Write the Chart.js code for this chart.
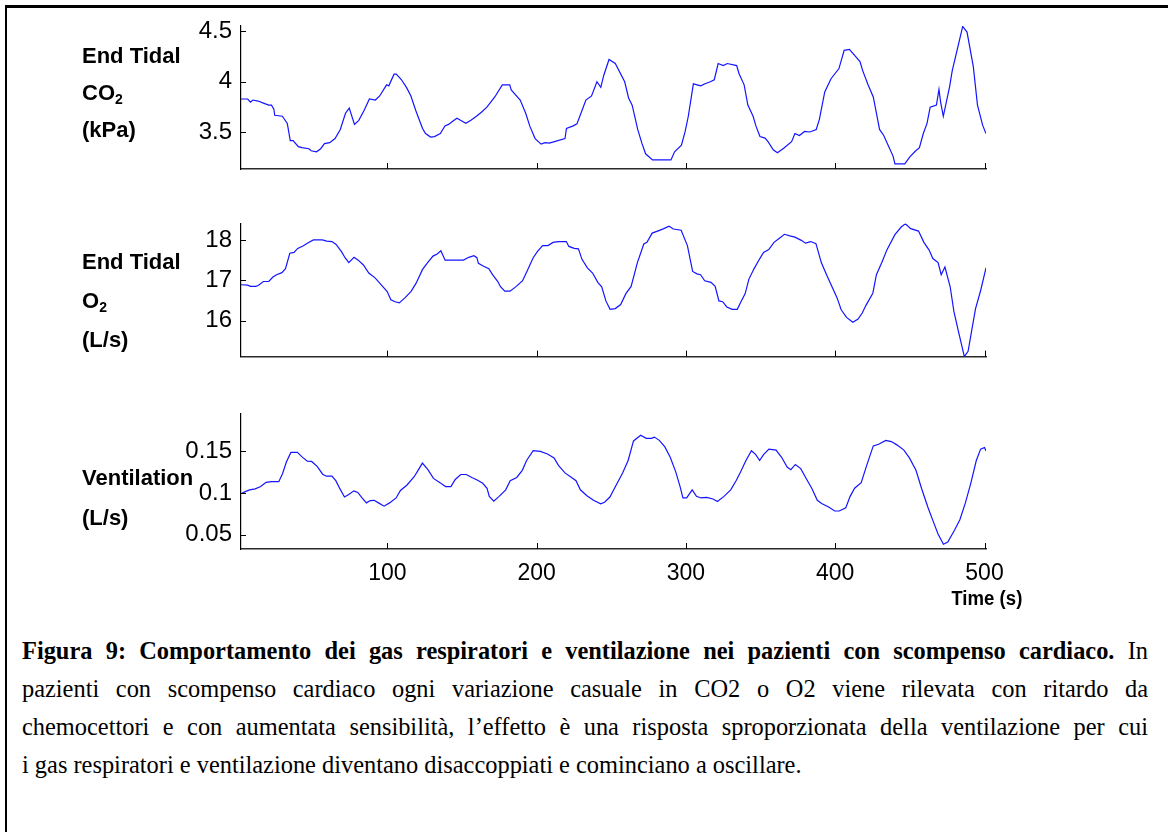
<!DOCTYPE html>
<html lang="it">
<head>
<meta charset="utf-8">
<title>Figura 9</title>
<script src="https://cdn.jsdelivr.net/npm/chart.js@4.4.1/dist/chart.umd.min.js"></script>
<style>
  html, body { margin: 0; padding: 0; background: #fff; }
  #pagina { position: relative; width: 1168px; height: 832px; overflow: hidden; }
  #cornice { position: absolute; left: 5px; top: 5px; width: 1200px; height: 900px;
             border-left: 2px solid #000; border-top: 3px solid #000; }
  canvas { position: absolute; left: 0; }
  .etichetta { position: absolute; left: 82px; font: bold 22px "Liberation Sans", Arial, sans-serif;
               color: #000; white-space: nowrap; line-height: 24px; }
  .etichetta sub { font-size: 14px; vertical-align: -4px; }
  #asseTempo { position: absolute; right: 146px; top: 586px; font: bold 20px "Liberation Sans", Arial, sans-serif;
               transform: scaleX(0.93); transform-origin: right center; white-space: nowrap; line-height: 24px; }
  .riga { position: absolute; left: 22px; width: 1126px; font: 24.4px "Liberation Serif", "Times New Roman", serif;
          color: #000; white-space: nowrap; line-height: 28px; }
  .giustificata { text-align: justify; text-align-last: justify; white-space: normal; }
</style>
</head>
<body>
<div id="pagina">
  <div id="cornice"></div>

  <canvas id="graficoCO2" width="1168" height="200" style="top:0px"></canvas>
  <canvas id="graficoO2" width="1168" height="180" style="top:200px"></canvas>
  <canvas id="graficoVent" width="1168" height="220" style="top:390px"></canvas>

  <div class="etichetta" style="top:44px">End Tidal</div>
  <div class="etichetta" style="top:81px">CO<sub>2</sub></div>
  <div class="etichetta" style="top:118px">(kPa)</div>

  <div class="etichetta" style="top:250px">End Tidal</div>
  <div class="etichetta" style="top:289px">O<sub>2</sub></div>
  <div class="etichetta" style="top:328px">(L/s)</div>

  <div class="etichetta" style="top:466px">Ventilation</div>
  <div class="etichetta" style="top:506px">(L/s)</div>

  <div id="asseTempo">Time (s)</div>

  <div class="riga giustificata" style="top:637px"><b>Figura 9: Comportamento dei gas respiratori e ventilazione nei pazienti con scompenso cardiaco.</b> In</div>
  <div class="riga giustificata" style="top:675px">pazienti con scompenso cardiaco ogni variazione casuale in CO2 o O2 viene rilevata con ritardo da</div>
  <div class="riga giustificata" style="top:713px">chemocettori e con aumentata sensibilità, l’effetto è una risposta sproporzionata della ventilazione per cui</div>
  <div class="riga" style="top:751px">i gas respiratori e ventilazione diventano disaccoppiati e cominciano a oscillare.</div>
</div>

<script>
// Tacche comuni dell'asse del tempo (s)
const tickTempo = [100, 200, 300, 400, 500];

// CO2 di fine espirazione (kPa): [tempo, valore]
const co2 = [[2,3.83],[6.5,3.83],[8.3,3.80],[10,3.82],[13.5,3.81],[17,3.79],[20.6,3.77],[22.4,3.77],[24,3.73],[24.6,3.67],
  [29.7,3.66],[33,3.59],[35,3.42],[36.9,3.42],[40.4,3.36],[42.8,3.35],[47.5,3.34],[49,3.32],[52.6,3.31],[55.4,3.34],
  [57.9,3.39],[61.4,3.40],[65,3.44],[68.5,3.53],[72,3.69],[74.5,3.74],[78,3.58],[80.9,3.62],[84.5,3.72],[88,3.83],
  [92,3.82],[94.9,3.86],[99.5,3.97],[101,3.96],[104.5,4.075],[106,4.075],[109.5,4.02],[113,3.94],[115.8,3.86],[119,3.72],
  [123.6,3.54],[125.6,3.49],[129,3.455],[131.6,3.46],[135.5,3.49],[138.6,3.565],[141,3.58],[143.8,3.61],[146.6,3.64],[149,3.62],
  [152.6,3.59],[156,3.62],[159.7,3.66],[163,3.70],[166.7,3.75],[172,3.85],[177,3.97],[182,3.97],[183,3.92],[189,3.82],
  [192.7,3.69],[195.5,3.56],[199,3.44],[203,3.385],[205.6,3.40],[208.4,3.395],[212,3.41],[219,3.44],[220,3.54],[224.5,3.565],
  [227,3.585],[229.7,3.69],[233,3.82],[236.8,3.86],[240.4,4.00],[243,3.945],[245,4.065],[248.5,4.22],[252.7,4.18],[259,4.00],
  [261.6,3.84],[264,3.77],[267.7,3.53],[270.5,3.395],[273,3.29],[277.6,3.23],[290,3.23],[292.4,3.31],[297,3.376],[299.5,3.51],
  [301.6,3.66],[305,3.98],[307.5,3.97],[310,3.96],[312.8,3.98],[316.4,4.00],[319,4.02],[321.6,4.18],[325,4.16],[327.7,4.18],
  [334,4.16],[335.6,4.08],[339,3.97],[341.5,3.77],[345,3.66],[347,3.56],[349.6,3.46],[353,3.445],[355,3.41],[358.5,3.33],
  [361.3,3.30],[365.5,3.345],[370.8,3.41],[373,3.49],[376,3.47],[379.5,3.51],[383,3.505],[387.3,3.53],[389.4,3.63],[393,3.90],
  [397.2,4.03],[402.5,4.13],[406,4.31],[409.5,4.32],[413,4.26],[416.6,4.20],[418.4,4.11],[422,3.97],[425.5,3.85],[429.7,3.53],
  [432.5,3.47],[435.3,3.38],[438.8,3.265],[440,3.19],[446.6,3.19],[450,3.26],[453.6,3.315],[456.4,3.35],[459,3.49],[461.5,3.59],
  [463.6,3.75],[467.8,3.77],[469.5,3.925],[470.6,3.80],[472.4,3.66],[476.6,3.95],[478.4,4.11],[485.4,4.546],[488.3,4.49],[492.5,4.15],
  [495.3,3.77],[498.8,3.57],[501,3.49]];

// O2 di fine espirazione: [tempo, valore]
const o2 = [[2,16.89],[6.5,16.88],[8.3,16.85],[11.9,16.85],[13.5,16.87],[17,16.97],[20.6,16.97],[23.4,17.08],[25.8,17.14],[29.4,17.19],
  [31.8,17.29],[34.7,17.67],[37.5,17.69],[40,17.79],[43.5,17.85],[47,17.93],[50.5,18.00],[56.5,18.00],[59.4,17.97],[62.9,17.96],
  [65.7,17.89],[69.3,17.71],[71.7,17.56],[74.2,17.44],[77.7,17.57],[80.5,17.50],[84,17.38],[87.6,17.18],[91.8,17.06],[96.4,16.87],
  [99.9,16.72],[102.4,16.52],[105.2,16.47],[108,16.44],[111.6,16.56],[115.8,16.72],[119.3,16.93],[123.6,17.27],[127,17.44],[130.6,17.60],
  [133.4,17.65],[135.9,17.73],[138.7,17.50],[151,17.50],[154.6,17.57],[158,17.61],[160,17.56],[161,17.42],[164.5,17.35],[168,17.29],
  [170.5,17.14],[174,16.97],[175.8,16.84],[178.7,16.73],[182.2,16.73],[186.4,16.85],[190.6,16.99],[193.5,17.22],[197.7,17.56],[200.5,17.71],
  [204,17.86],[207.6,17.86],[211,17.94],[214.6,17.96],[219.9,17.96],[221.6,17.84],[225.2,17.79],[228,17.78],[230.4,17.52],[234,17.31],
  [237.5,17.18],[241,16.95],[243.6,16.84],[246.4,16.49],[249.2,16.28],[252.7,16.30],[256.3,16.40],[259.8,16.67],[263.3,16.85],[267.5,17.44],
  [271.8,17.90],[273.9,17.94],[277.4,18.17],[281,18.22],[285.2,18.28],[288.7,18.34],[291.6,18.27],[296.8,18.24],[301,17.86],[304.5,17.22],
  [307.4,17.16],[309.8,17.14],[312.6,16.99],[316.8,16.95],[319.6,16.85],[322.1,16.49],[324.6,16.47],[327.4,16.34],[331,16.28],[334.4,16.28],
  [336.2,16.42],[339.7,16.67],[342.2,17.03],[345.7,17.29],[349.2,17.52],[352,17.69],[355.5,17.76],[359,17.94],[362.6,18.04],[366,18.14],
  [369.6,18.10],[373,18.07],[377.3,17.99],[380.1,17.92],[383.6,17.96],[387.1,17.91],[390.7,17.44],[394.2,17.14],[397.7,16.85],[401.2,16.57],
  [404,16.27],[407.6,16.08],[411.8,15.96],[415.3,16.04],[418.1,16.19],[420.6,16.38],[425.2,16.68],[427.6,17.14],[431.2,17.44],[434.7,17.76],
  [440,18.13],[444.2,18.32],[447,18.40],[450.6,18.28],[455.8,18.22],[459.4,17.94],[462.9,17.75],[465.4,17.54],[468.9,17.44],[471,17.14],
  [473.5,17.33],[477,16.84],[479.5,16.23],[482.3,15.77],[486.5,15.11],[489,15.24],[491.5,15.77],[494,16.30],[497.5,16.76],[501,17.31]];

// Ventilazione (L/s): [tempo, valore]
const ventilazione = [[2,0.099],[5.2,0.1018],[7.8,0.1037],[11.5,0.1049],[15.2,0.1076],[18.8,0.1126],[22.5,0.1134],[27.3,0.1134],[29.8,0.123],[32.4,0.137],
  [35.4,0.1484],[39.8,0.1484],[42.7,0.1434],[46.4,0.138],[49.3,0.1376],[53,0.1317],[56.7,0.1224],[59.2,0.120],[62.9,0.120],[65.5,0.1146],
  [68.4,0.1045],[71.3,0.0951],[73.9,0.0979],[77.6,0.1025],[80.2,0.1006],[83.1,0.094],[86,0.0881],[88.6,0.0909],[91.2,0.0912],[94.1,0.0881],
  [97.8,0.0842],[101.5,0.0881],[105.9,0.094],[108.8,0.1029],[113.2,0.1095],[118,0.1193],[120.6,0.127],[123.5,0.1356],[127.2,0.1278],[130.9,0.1173],
  [135.3,0.1123],[139,0.1076],[142.6,0.1076],[145.5,0.1161],[149.2,0.122],[152.9,0.122],[156.6,0.1185],[160.2,0.1154],[163.9,0.1115],[166.8,0.1056],
  [168.3,0.0959],[171.3,0.0901],[174.9,0.0959],[179.3,0.1037],[182.3,0.1146],[186.7,0.1185],[190.4,0.127],[193.3,0.1387],[197.7,0.1504],[202.5,0.1496],
  [207.3,0.1465],[211.7,0.1418],[214.6,0.1329],[219,0.1239],[223.4,0.1185],[226.4,0.1146],[229.3,0.1037],[233.7,0.0967],[238.1,0.0912],[242.9,0.087],
  [245.5,0.0889],[249.1,0.0951],[252.8,0.1076],[257.6,0.1239],[261.3,0.1387],[264.9,0.1621],[269.7,0.169],[273.4,0.1652],[277,0.1652],[278.9,0.1667],
  [282.2,0.1628],[285.9,0.155],[289.5,0.1426],[293.2,0.1251],[296.1,0.1076],[298,0.094],[300.5,0.094],[304.2,0.1037],[307.1,0.0959],[310.1,0.094],
  [313.8,0.0947],[318.2,0.0928],[321.1,0.0897],[325.5,0.0959],[330,0.1037],[333.6,0.1146],[336.6,0.1251],[340.2,0.1387],[343.9,0.1504],[346.8,0.1457],
  [349.4,0.1387],[352,0.1457],[355.6,0.1523],[360.4,0.1512],[364.1,0.1426],[367.8,0.1309],[370.3,0.1278],[373.3,0.134],[376.9,0.129],[381.4,0.1146],
  [384.3,0.1056],[388,0.0912],[390.9,0.0873],[395.3,0.0835],[399.7,0.0784],[402.7,0.0784],[407.1,0.0823],[410,0.0959],[413,0.1056],[417.4,0.1123],
  [421.1,0.1329],[425.5,0.1562],[429.1,0.1582],[433.9,0.1628],[437.6,0.1613],[441.3,0.1574],[446,0.1512],[449.7,0.1418],[454.1,0.127],[457.8,0.1056],
  [462.2,0.0823],[465.9,0.0648],[468.8,0.0512],[472.5,0.0387],[475.4,0.0414],[479.8,0.055],[483.5,0.0679],[487.2,0.0881],[490.8,0.1115],[494.5,0.1387],
  [497.4,0.1523],[500,0.1543],[501,0.150]];

// Tacche e limiti degli assi y
const tickCO2 = [3.5, 4, 4.5];
const tickO2 = [16, 17, 18];
const tickVent = [0.05, 0.1, 0.15];
const limitiCO2 = [3.14, 4.55];
const limitiO2 = [15.11, 18.41];
const limitiVent = [0.033, 0.195];

Chart.defaults.font.family = '"Liberation Sans", Arial, sans-serif';
Chart.defaults.color = '#000';

// tacche rivolte verso l'interno, come negli assi di MATLAB
const tacchePlugin = {
  id: 'tacche',
  afterDraw(chart) {
    const ctx = chart.ctx;
    const area = chart.chartArea;
    const sx = chart.scales.x, sy = chart.scales.y;
    ctx.save();
    ctx.strokeStyle = '#000';
    ctx.lineWidth = 1;
    ctx.beginPath();
    chart.options.plugins.tacche.valoriY.forEach(v => {
      const py = Math.round(sy.getPixelForValue(v)) + 0.5;
      ctx.moveTo(area.left, py);
      ctx.lineTo(area.left + 5, py);
    });
    tickTempo.forEach(v => {
      const px = Math.round(sx.getPixelForValue(v)) + 0.5;
      ctx.moveTo(px, area.bottom);
      ctx.lineTo(px, area.bottom - 6);
    });
    ctx.stroke();
    ctx.restore();
  }
};

function creaGrafico(id, serie, valoriY, limiti, etichetteX, padTop, padBottom) {
  const altezzaX = etichetteX ? 40 : 2;
  return new Chart(document.getElementById(id), {
    type: 'line',
    data: {
      datasets: [{
        data: serie.map(p => ({ x: p[0], y: p[1] })),
        borderColor: '#1414ff',
        borderWidth: 1.2,
        pointRadius: 0,
        tension: 0,
        fill: false
      }]
    },
    options: {
      responsive: false,
      animation: false,
      events: [],
      layout: { padding: { left: 181, right: 182, top: padTop, bottom: padBottom } },
      plugins: {
        legend: { display: false },
        tooltip: { enabled: false },
        tacche: { valoriY: valoriY }
      },
      scales: {
        x: {
          type: 'linear',
          min: 2,
          max: 501,
          grid: { display: false, drawTicks: false },
          border: { display: true, color: '#2a2a2a', width: 1.5 },
          afterBuildTicks: s => { s.ticks = tickTempo.map(v => ({ value: v })); },
          afterFit: s => { s.height = altezzaX; },
          ticks: { display: etichetteX, padding: 11, maxRotation: 0, font: { size: 23 } }
        },
        y: {
          type: 'linear',
          min: limiti[0],
          max: limiti[1],
          grid: { display: false, drawTicks: false },
          border: { display: true, color: '#000', width: 1.2 },
          afterBuildTicks: s => { s.ticks = valoriY.map(v => ({ value: v })); },
          afterFit: s => { s.width = 60; },
          ticks: { padding: 9, font: { size: 24 }, callback: v => String(v) }
        }
      }
    },
    plugins: [tacchePlugin]
  });
}

// area dati: x 241..986 px; y secondo i margini di ciascun pannello
creaGrafico('graficoCO2', co2, tickCO2, limitiCO2, false, 26, 200 - 169 - 2);
creaGrafico('graficoO2', o2, tickO2, limitiO2, false, 16, 180 - 160 - 2);
creaGrafico('graficoVent', ventilazione, tickVent, limitiVent, true, 18, 220 - 159 - 40);
</script>
</body>
</html>
